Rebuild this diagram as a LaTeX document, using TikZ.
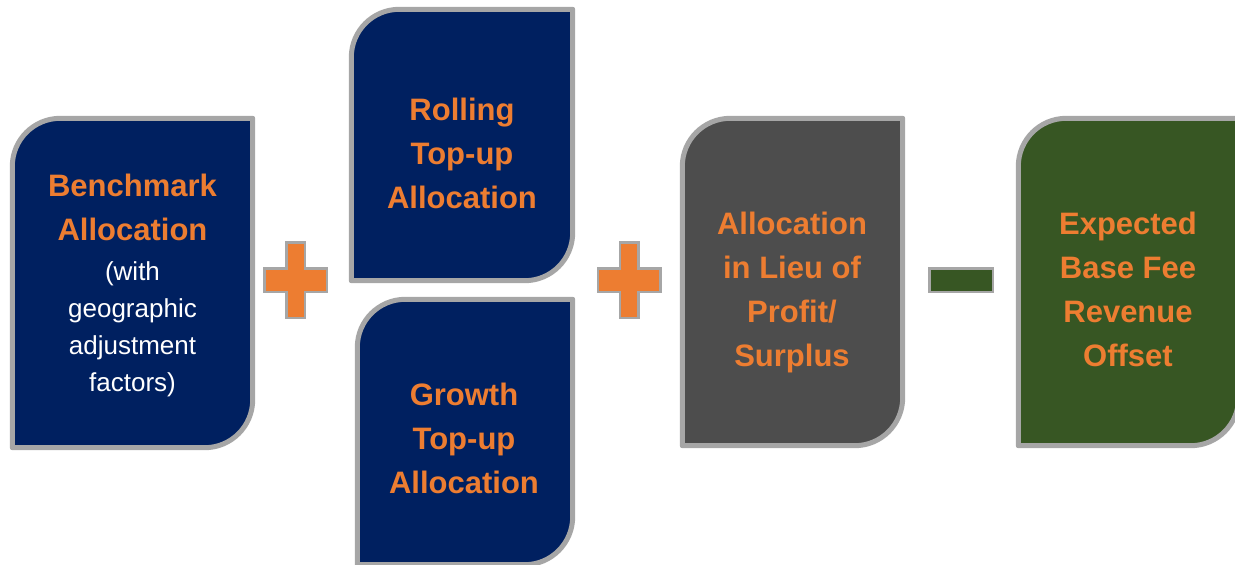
\documentclass[tikz,border=0pt]{standalone}
\usepackage{fontspec}
\setmainfont{Liberation Sans}
\definecolor{navyfill}{HTML}{002060}
\definecolor{slatefill}{HTML}{4D4D4D}
\definecolor{forestfill}{HTML}{375623}
\definecolor{accentorange}{HTML}{ED7D31}
\definecolor{rimgray}{HTML}{A6A6A6}
\newcommand\slabr{48pt}
% Box with rounded top-left and bottom-right corners, built on a node's anchors
\newcommand\slab[2]{\path[slab,#2] (#1.south west)
  -- ([yshift=-\slabr]#1.north west) arc[start angle=180,end angle=90,radius=\slabr]
  -- (#1.north east)
  -- ([yshift=\slabr]#1.south east) arc[start angle=0,end angle=-90,radius=\slabr]
  -- cycle;}
\begin{document}
\begin{tikzpicture}[x=1pt,y=-1pt,
  frame/.style={rectangle,draw=none,inner sep=0pt},
  slab/.style={draw=rimgray,line width=5pt,line join=round},
  title/.style={font=\fontsize{31}{44}\selectfont\bfseries,text=accentorange,
    align=center,anchor=base,inner sep=0pt},
  note/.style={font=\fontsize{26}{37}\selectfont,text=white,
    align=center,anchor=base,inner sep=0pt},
  opplus/.style={fill=accentorange,draw=rimgray,line width=2.5pt},
  opminus/.style={fill=forestfill,draw=rimgray,line width=2.5pt}]
\useasboundingbox (0,0) rectangle (1235,565);
\clip (0,0) rectangle (1235,565);

% frames of the five boxes
\node[frame,minimum width=240pt,minimum height=329pt] (bench) at (132.5,283) {};
\node[frame,minimum width=221pt,minimum height=271pt] (rolling) at (462,145) {};
\node[frame,minimum width=215pt,minimum height=265pt] (growth) at (465,432) {};
\node[frame,minimum width=220pt,minimum height=327pt] (lieu) at (792.5,282) {};
\node[frame,minimum width=220pt,minimum height=327pt] (offset) at (1128.5,282) {};

\slab{bench}{fill=navyfill}
\slab{rolling}{fill=navyfill}
\slab{growth}{fill=navyfill}
\slab{lieu}{fill=slatefill}
\slab{offset}{fill=forestfill}

% box texts (each placed by the baseline of its last line)
\node[title] (benchT) at (132.5,240) {Benchmark\\Allocation};
\node[note] (benchN) at (132.5,391) {(with\\geographic\\adjustment\\factors)};
\node[title] (rollingT) at (462,208) {Rolling\\Top-up\\Allocation};
\node[title] (growthT) at (464,493) {Growth\\Top-up\\Allocation};
\node[title] (lieuT) at (792,366.5) {Allocation\\in Lieu of\\Profit/\\Surplus};
\node[title] (offsetT) at (1128,366.5) {Expected\\Base Fee\\Revenue\\Offset};

% operators
\coordinate (plusA) at (295.5,280);
\coordinate (plusB) at (629,280);
\coordinate (minusA) at (961,280);
\foreach \c in {plusA,plusB}{
  \path[opplus,shift={(\c)}] (-9.25,-37.75) -- (9.25,-37.75) -- (9.25,-11.75)
    -- (31.25,-11.75) -- (31.25,11.75) -- (9.25,11.75) -- (9.25,37.75)
    -- (-9.25,37.75) -- (-9.25,11.75) -- (-31.25,11.75) -- (-31.25,-11.75)
    -- (-9.25,-11.75) -- cycle;
}
\path[opminus,shift={(minusA)}] (-31.75,-11.75) rectangle (31.75,11.75);
\end{tikzpicture}
\end{document}
